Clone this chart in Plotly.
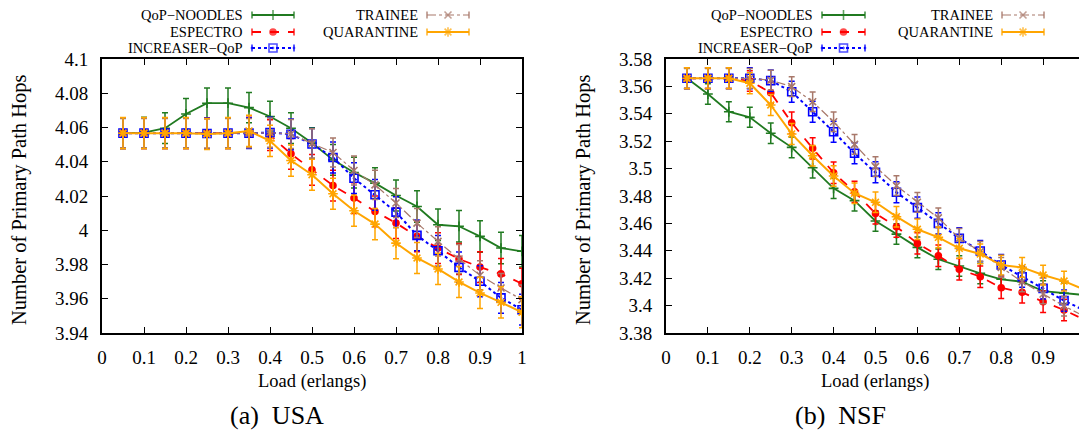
import plotly.graph_objects as go

# the page body keeps its default 8px margin, so the figure is drawn 8px smaller
# and every pixel position below is given in window coordinates
W, H = 1087, 436
OFF = 8
FW, FH = W - OFF, H - OFF
FONT = "Liberation Serif, Times New Roman, serif"

# ---- data -------------------------------------------------------------
loads = [0.05, 0.1, 0.15, 0.2, 0.25, 0.3, 0.35, 0.4, 0.45, 0.5,
         0.55, 0.6, 0.65, 0.7, 0.75, 0.8, 0.85, 0.9, 0.95, 1.0]

series_names = ["QoP\u2212NOODLES", "ESPECTRO", "INCREASER\u2212QoP", "TRAINEE", "QUARANTINE"]

# (a) USA
usa_noodles = [4.0567, 4.0570, 4.0596, 4.0679, 4.0742, 4.0742, 4.0716, 4.0664, 4.0596, 4.0509,
               4.0411, 4.0337, 4.0275, 4.0203, 4.0139, 4.0032, 4.0023, 3.9964, 3.9896, 3.9877]
usa_espectro = [4.0567, 4.0567, 4.0567, 4.0567, 4.0565, 4.0567, 4.0570, 4.0555, 4.0446, 4.0353,
                4.0261, 4.0188, 4.0110, 4.0042, 3.9964, 3.9896, 3.9832, 3.9785, 3.9745, 3.9688]
usa_increaser = [4.0567, 4.0567, 4.0567, 4.0567, 4.0565, 4.0567, 4.0567, 4.0570, 4.0560, 4.0504,
                 4.0425, 4.0304, 4.0207, 4.0106, 3.9970, 3.9880, 3.9783, 3.9702, 3.9605, 3.9536]
usa_trainee = [4.0567, 4.0567, 4.0567, 4.0567, 4.0565, 4.0567, 4.0567, 4.0570, 4.0562, 4.0507,
               4.0454, 4.0349, 4.0265, 4.0159, 4.0042, 3.9935, 3.9832, 3.9737, 3.9663, 3.9595]
usa_quarantine = [4.0567, 4.0567, 4.0567, 4.0567, 4.0562, 4.0567, 4.0580, 4.0522, 4.0407, 4.0324,
                  4.0213, 4.0114, 4.0036, 3.9925, 3.9838, 3.9774, 3.9698, 3.9634, 3.9579, 3.9521]

usa_err_noodles = [0.009, 0.009, 0.009, 0.009, 0.0088, 0.0088, 0.0088, 0.009, 0.009, 0.009,
                   0.009, 0.009, 0.009, 0.009, 0.0092, 0.0092, 0.0092, 0.0092, 0.0092, 0.0092]
usa_err_espectro = [0.009, 0.009, 0.009, 0.009, 0.009, 0.009, 0.009, 0.009, 0.009, 0.009,
                    0.009, 0.009, 0.009, 0.009, 0.009, 0.009, 0.009, 0.009, 0.009, 0.009]
usa_err_increaser = [0.009, 0.009, 0.009, 0.009, 0.009, 0.009, 0.009, 0.009, 0.009, 0.009,
                     0.009, 0.009, 0.009, 0.009, 0.009, 0.009, 0.009, 0.009, 0.009, 0.009]
usa_err_trainee = [0.0085, 0.0085, 0.0085, 0.0085, 0.0085, 0.0085, 0.0085, 0.0085, 0.0085, 0.0085,
                   0.0085, 0.0085, 0.0085, 0.0085, 0.0085, 0.0085, 0.0085, 0.0085, 0.0085, 0.0085]
usa_err_quarantine = [0.0091, 0.0091, 0.0091, 0.0091, 0.0091, 0.0091, 0.0091, 0.0091, 0.0091, 0.0091,
                      0.0091, 0.0091, 0.0091, 0.0091, 0.0091, 0.0091, 0.0091, 0.0091, 0.0091, 0.0091]

# (b) NSF
nsf_noodles = [3.5659, 3.5544, 3.5415, 3.5374, 3.5258, 3.5155, 3.5006, 3.4856, 3.4766, 3.4618,
               3.4522, 3.4425, 3.4338, 3.4289, 3.4235, 3.4192, 3.4174, 3.4106, 3.4090, 3.4077]
nsf_espectro = [3.5659, 3.5659, 3.5659, 3.5640, 3.5554, 3.5335, 3.5148, 3.4970, 3.4830, 3.4673,
                3.4576, 3.4454, 3.4364, 3.4265, 3.4211, 3.4130, 3.4097, 3.4028, 3.3968, 3.3895]
nsf_increaser = [3.5659, 3.5659, 3.5659, 3.5659, 3.5642, 3.5561, 3.5415, 3.5269, 3.5112, 3.4973,
                 3.4827, 3.4715, 3.4600, 3.4491, 3.4398, 3.4296, 3.4211, 3.4126, 3.4036, 3.3963]
nsf_trainee = [3.5659, 3.5659, 3.5659, 3.5659, 3.5645, 3.5598, 3.5488, 3.5342, 3.5177, 3.5014,
               3.4875, 3.4754, 3.4640, 3.4491, 3.4395, 3.4279, 3.4174, 3.4085, 3.3997, 3.3919]
nsf_quarantine = [3.5659, 3.5659, 3.5659, 3.5623, 3.5464, 3.5253, 3.5094, 3.4946, 3.4820, 3.4754,
                  3.4649, 3.4557, 3.4498, 3.4418, 3.4377, 3.4296, 3.4279, 3.4223, 3.4179, 3.4114]

nsf_err_noodles = [0.0075, 0.0075, 0.0073, 0.0073, 0.0075, 0.0075, 0.0075, 0.0075, 0.0075, 0.0075,
                   0.0075, 0.0075, 0.0075, 0.0075, 0.0075, 0.0075, 0.0075, 0.0075, 0.0075, 0.0075]
nsf_err_espectro = [0.0075, 0.0075, 0.0075, 0.0075, 0.0078, 0.0078, 0.0078, 0.0078, 0.0078, 0.0078,
                    0.0078, 0.0078, 0.0078, 0.0078, 0.0078, 0.0078, 0.0078, 0.0078, 0.0078, 0.0078]
nsf_err_increaser = [0.0077, 0.0077, 0.0077, 0.0077, 0.0077, 0.0077, 0.0077, 0.0077, 0.0077, 0.0077,
                     0.0077, 0.0077, 0.0077, 0.0077, 0.0077, 0.0077, 0.0077, 0.0077, 0.0077, 0.0077]
nsf_err_trainee = [0.0072, 0.0072, 0.0072, 0.0072, 0.0072, 0.0072, 0.0072, 0.0072, 0.0072, 0.0072,
                   0.0072, 0.0072, 0.0072, 0.0072, 0.0072, 0.0072, 0.0072, 0.0072, 0.0072, 0.0072]
nsf_err_quarantine = [0.0077, 0.0077, 0.0077, 0.0077, 0.0077, 0.0077, 0.0075, 0.0075, 0.0075, 0.0075,
                      0.0075, 0.0075, 0.0075, 0.0072, 0.0072, 0.0072, 0.0072, 0.0072, 0.0072, 0.0072]

x_ticks = [0, 0.1, 0.2, 0.3, 0.4, 0.5, 0.6, 0.7, 0.8, 0.9, 1.0]
x_ticklabels = ["0", "0.1", "0.2", "0.3", "0.4", "0.5", "0.6", "0.7", "0.8", "0.9", "1"]
usa_yticks = [3.94, 3.96, 3.98, 4.0, 4.02, 4.04, 4.06, 4.08, 4.1]
usa_yticklabels = ["3.94", "3.96", "3.98", "4", "4.02", "4.04", "4.06", "4.08", "4.1"]
nsf_yticks = [3.38, 3.40, 3.42, 3.44, 3.46, 3.48, 3.50, 3.52, 3.54, 3.56, 3.58]
nsf_yticklabels = ["3.38", "3.4", "3.42", "3.44", "3.46", "3.48", "3.5", "3.52", "3.54", "3.56", "3.58"]

# ---- styles -----------------------------------------------------------
styles = {
    "QoP\u2212NOODLES": dict(color="#207a20", dash="solid", width=1.8, symbol="cross-thin-open", size=7),
    "ESPECTRO": dict(color="#ff0000", dash="dash", width=1.8, symbol="circle", size=6),
    "INCREASER\u2212QoP": dict(color="#0000ff", dash="dot", width=2, symbol="square-open-dot", size=8),
    "TRAINEE": dict(color="#a8786a", dash="dashdot", width=1.2, symbol="x-thin-open", size=7),
    "QUARANTINE": dict(color="#ffa500", dash="solid", width=2, symbol="asterisk-open", size=8),
}


def px(x):
    return (x - OFF) / FW


def py(y):
    return 1 - (y - OFF) / FH


fig = go.Figure()

panels = [
    ("x", "y", [usa_noodles, usa_espectro, usa_increaser, usa_trainee, usa_quarantine],
     [usa_err_noodles, usa_err_espectro, usa_err_increaser, usa_err_trainee, usa_err_quarantine]),
    ("x2", "y2", [nsf_noodles, nsf_espectro, nsf_increaser, nsf_trainee, nsf_quarantine],
     [nsf_err_noodles, nsf_err_espectro, nsf_err_increaser, nsf_err_trainee, nsf_err_quarantine]),
]
for xa, ya, vals, errs in panels:
    for name, v, e in zip(series_names, vals, errs):
        st = styles[name]
        fig.add_trace(go.Scatter(
            x=loads, y=v, xaxis=xa, yaxis=ya, mode="lines+markers", name=name, showlegend=False,
            line=dict(color=st["color"], width=st["width"], dash=st["dash"]),
            marker=dict(symbol=st["symbol"], size=st["size"], color=st["color"],
                        line=dict(color=st["color"], width=1.6)),
            error_y=dict(type="data", array=e, color=st["color"], thickness=1.5, width=3),
        ))

# gnuplot-style keys: right-aligned text followed by an errorbar sample
key_rows = [15, 32, 48]
key_layout = [(0, 0), (0, 1), (0, 2), (1, 0), (1, 1)]  # (column, row) for each series
panel_keys = [
    # (text right edge, sample start, sample end) for each key column
    [(245, 252, 294), (420, 427, 469)],
    [(815, 822, 865), (995, 1002, 1044)],
]
annotations = []
for cols in panel_keys:
    for name, (c, r) in zip(series_names, key_layout):
        st = styles[name]
        tr, x0, x1 = cols[c]
        yy = key_rows[r]
        annotations.append(dict(text=name, xref="paper", yref="paper", x=px(tr), y=py(yy),
                                xanchor="right", yanchor="middle", showarrow=False,
                                font=dict(family=FONT, size=14.5, color="black")))
        fig.add_trace(go.Scatter(
            x=[x0, (x0 + x1) / 2, x1], y=[yy, yy, yy], xaxis="x3", yaxis="y3",
            mode="lines+markers", showlegend=False, hoverinfo="skip",
            line=dict(color=st["color"], width=st["width"], dash=st["dash"]),
            marker=dict(symbol=st["symbol"], size=[0, st["size"], 0], color=st["color"],
                        line=dict(color=st["color"], width=1.6)),
            error_y=dict(type="data", array=[3.5, 0, 3.5], color=st["color"], thickness=1.3, width=0),
        ))

# axis titles and captions
for cx, ty in [(312, 19), (875, 583)]:
    annotations.append(dict(text="Load (erlangs)", xref="paper", yref="paper", x=px(cx), y=py(381),
                            xanchor="center", yanchor="middle", showarrow=False,
                            font=dict(family=FONT, size=18.5, color="black")))
    annotations.append(dict(text="Number of Primary Path Hops", xref="paper", yref="paper",
                            x=px(ty), y=py(200), textangle=-90, xanchor="center", yanchor="middle",
                            showarrow=False, font=dict(family=FONT, size=20.5, color="black")))
for cx, cap in [(277, "(a)  USA"), (840, "(b)  NSF")]:
    annotations.append(dict(text=cap, xref="paper", yref="paper", x=px(cx), y=py(415),
                            xanchor="center", yanchor="middle", showarrow=False,
                            font=dict(family=FONT, size=26, color="black")))

axis_common = dict(ticks="inside", ticklen=6, tickwidth=1.2, tickcolor="black",
                   showline=True, linewidth=2, linecolor="black", mirror="allticks",
                   showgrid=False, zeroline=False, automargin=False,
                   tickfont=dict(family=FONT, size=19, color="black"))

fig.update_layout(
    width=FW, height=FH, margin=dict(l=0, r=0, t=0, b=0, pad=0, autoexpand=False),
    paper_bgcolor="white", plot_bgcolor="rgba(0,0,0,0)",
    showlegend=False,
    xaxis=dict(domain=[px(102), px(522)], range=[0, 1], anchor="y",
               tickvals=x_ticks, ticktext=x_ticklabels, ticklabelstandoff=6, **axis_common),
    yaxis=dict(domain=[py(333), py(59)], range=[3.94, 4.1], anchor="x",
               tickvals=usa_yticks, ticktext=usa_yticklabels, ticklabelstandoff=8, **axis_common),
    xaxis2=dict(domain=[px(666), px(1085)], range=[0, 1], anchor="y2",
                tickvals=x_ticks, ticktext=x_ticklabels, ticklabelstandoff=6, **axis_common),
    yaxis2=dict(domain=[py(333), py(59)], range=[3.38, 3.58], anchor="x2",
                tickvals=nsf_yticks, ticktext=nsf_yticklabels, ticklabelstandoff=8, **axis_common),
    xaxis3=dict(domain=[0, 1], range=[OFF, OFF + FW], anchor="y3", visible=False, fixedrange=True),
    yaxis3=dict(domain=[0, 1], range=[OFF + FH, OFF], anchor="x3", visible=False, fixedrange=True),
    annotations=annotations,
)

fig.write_html("out.html")
